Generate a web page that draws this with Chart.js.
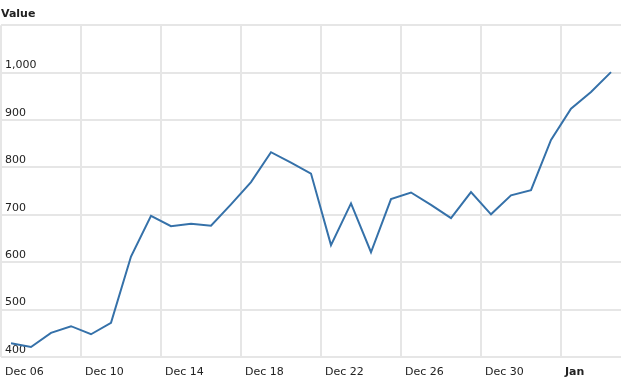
<!DOCTYPE html>
<html>
<head>
<meta charset="utf-8">
<script src="https://cdn.jsdelivr.net/npm/chart.js@4/dist/chart.umd.min.js"></script>
<style>
    html, body { margin: 0; padding: 0; background: #fff; }
    #wrap { width: 621px; height: 383px; }
</style>
</head>
<body>
<div id="wrap"><canvas id="myChart" width="621" height="383"></canvas></div>
<script>
// one value per day, starting Dec 06
var values = [429, 421, 451, 465, 448, 472, 612, 698, 676, 681, 677, 722, 769, 832, 810, 787,
              636, 724, 621, 733, 747, 721, 693, 748, 701, 741, 752, 858, 924, 959, 1001]
// x tick labels, one every 4 days
var tickLabels = ["Dec 06", "Dec 10", "Dec 14", "Dec 18", "Dec 22", "Dec 26", "Dec 30", "Jan"]
var yTicks = [400, 500, 600, 700, 800, 900, 1000, 1100]

var fontFamily = "'DejaVu Sans', Verdana, sans-serif"
var textColor = "#222"
var gridColor = "#e6e6e6"

var points = values.map(function(v, i){ return {x: i + 0.5, y: v} })

var ctx = document.getElementById("myChart").getContext("2d")
var chart = new Chart(ctx, {
    type: "line",
    data: {
        datasets: [{
            label: "Value",
            data: points,
            borderColor: "#3571a9",
            borderWidth: 2,
            pointRadius: 0,
            tension: 0,
            fill: false
        }]
    },
    options: {
        responsive: false,
        animation: false,
        layout: { padding: { left: 1, right: 0, top: 0, bottom: 0 } },
        plugins: {
            legend: { display: false },
            tooltip: { enabled: false },
            title: {
                display: true,
                text: "Value",
                align: "start",
                color: textColor,
                font: { family: fontFamily, size: 11, weight: "bold" },
                padding: { top: 8, bottom: 4 }
            }
        },
        scales: {
            x: {
                type: "linear",
                min: 0,
                max: 31,
                border: { display: false },
                grid: { color: gridColor, lineWidth: 2, drawTicks: false },
                afterFit: function(scale){
                    scale.height = 26
                    scale.paddingLeft = 0
                    scale.paddingRight = 0
                },
                ticks: {
                    stepSize: 4,
                    includeBounds: false,
                    autoSkip: false,
                    maxRotation: 0,
                    align: "start",
                    labelOffset: 4,
                    padding: 9,
                    color: textColor,
                    font: function(c){
                        var bold = c.tick && c.tick.value === 28
                        return { family: fontFamily, size: 11, weight: bold ? "bold" : "normal" }
                    },
                    callback: function(v){ return tickLabels[v / 4] || "" }
                }
            },
            y: {
                min: yTicks[0],
                max: yTicks[yTicks.length - 1],
                border: { display: false },
                grid: { color: gridColor, lineWidth: 2, drawTicks: false },
                afterFit: function(scale){
                    scale.width = 0
                    scale.paddingTop = 0
                    scale.paddingBottom = 0
                },
                ticks: {
                    stepSize: 100,
                    mirror: true,
                    padding: 4,
                    labelOffset: -7,
                    color: textColor,
                    font: { family: fontFamily, size: 11 },
                    callback: function(v){
                        if (v === yTicks[yTicks.length - 1]) return ""
                        return v.toLocaleString("en-US")
                    }
                }
            }
        }
    }
})
</script>
</body>
</html>
